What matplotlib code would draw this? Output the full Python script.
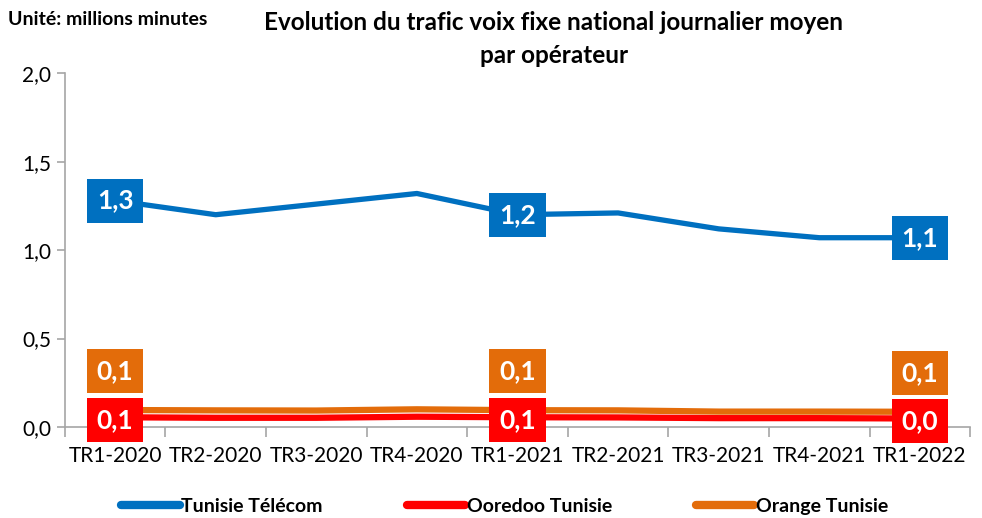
import matplotlib
matplotlib.use("Agg")
import matplotlib.pyplot as plt
import numpy as np

plt.rcParams['font.family'] = ['Lato', 'DejaVu Sans']

categories = ["TR1-2020", "TR2-2020", "TR3-2020", "TR4-2020", "TR1-2021",
              "TR2-2021", "TR3-2021", "TR4-2021", "TR1-2022"]
tt = [1.28, 1.20, 1.26, 1.32, 1.20, 1.21, 1.12, 1.07, 1.07]
ooredoo = [0.055, 0.052, 0.052, 0.058, 0.055, 0.054, 0.050, 0.050, 0.048]
orange = [0.096, 0.094, 0.093, 0.100, 0.095, 0.094, 0.087, 0.087, 0.086]
label_idx = [0, 4, 8]
tt_labels = ["1,3", "1,2", "1,1"]
ooredoo_labels = ["0,1", "0,1", "0,0"]
orange_labels = ["0,1", "0,1", "0,1"]
yticks = [0.0, 0.5, 1.0, 1.5, 2.0]

c_blue = "#0070C0"
c_red = "#FF0000"
c_orange = "#E36C0A"

fig = plt.figure(figsize=(9.82, 5.18), dpi=100)
ax = fig.add_axes([0.066, 0.1757, 0.922, 0.683])
x = np.arange(len(categories))

ax.plot(x, orange, color=c_orange, lw=4.5, solid_capstyle='butt', label="Orange Tunisie", zorder=3)
ax.plot(x, ooredoo, color=c_red, lw=4.5, solid_capstyle='butt', label="Ooredoo Tunisie", zorder=4)
ax.plot(x, tt, color=c_blue, lw=3.8, solid_capstyle='butt', label="Tunisie Télécom", zorder=5)

ax.set_xlim(-0.5, len(categories) - 0.5)
ax.set_ylim(0, 2.0)
ax.set_yticks(yticks)
ax.set_yticklabels([f"{v:.1f}".replace('.', ',') for v in yticks], fontsize=15)
ax.set_xticks(x)
ax.set_xticklabels(categories, fontsize=15)
ax.set_xticks(np.arange(-0.5, len(categories)), minor=True)
ax.tick_params(axis='x', which='major', length=0, pad=14)
ax.tick_params(axis='x', which='minor', length=7, color='#A6A6A6', width=1.2)
ax.tick_params(axis='y', length=6, color='#A6A6A6', width=1.2, pad=4)

for s in ['top', 'right']:
    ax.spines[s].set_visible(False)
for s in ['left', 'bottom']:
    ax.spines[s].set_color('#A6A6A6')
    ax.spines[s].set_linewidth(1.2)

def box_label(xi, yi, txt, fc, dy):
    ax.annotate(txt, (xi, yi), xytext=(0, dy), textcoords='offset points',
                ha='center', va='center', fontsize=19, fontweight='bold', color='white',
                bbox=dict(boxstyle='square,pad=0.38', fc=fc, ec='none'), zorder=10,
                annotation_clip=False)

for k, i in enumerate(label_idx):
    box_label(x[i], tt[i], tt_labels[k], c_blue, 0)
    box_label(x[i], ooredoo[i], ooredoo_labels[k], c_red, -2)
    box_label(x[i], orange[i], orange_labels[k], c_orange, 28)

fig.text(0.008, 0.963, "Unité: millions minutes", fontsize=14, fontweight='bold', va='center')
fig.text(0.564, 0.956, "Evolution du trafic voix fixe national journalier moyen",
         fontsize=17.5, fontweight='bold', ha='center', va='center')
fig.text(0.564, 0.893, "par opérateur", fontsize=17.5, fontweight='bold', ha='center', va='center')

handles, labels = ax.get_legend_handles_labels()
order = [2, 1, 0]
leg = fig.legend([handles[i] for i in order], [labels[i] for i in order],
                 loc='center', bbox_to_anchor=(0.514, 0.022), ncol=3, frameon=False,
                 handlelength=3.0, handletextpad=0.1, columnspacing=4.3,
                 prop={'weight': 'bold', 'size': 14})
for line in leg.get_lines():
    line.set_linewidth(6)
    line.set_solid_capstyle('round')

fig.savefig("out.png", dpi=100)
